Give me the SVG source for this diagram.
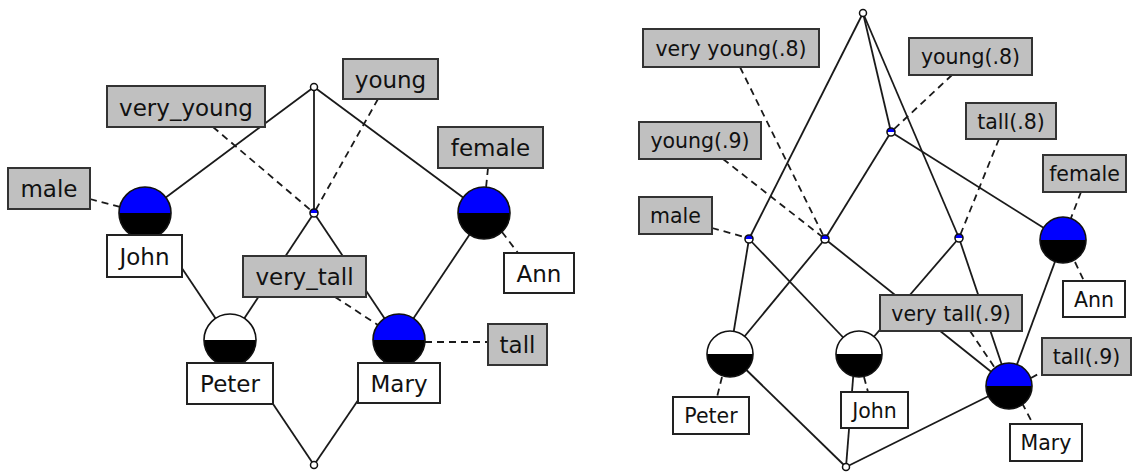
<svg xmlns="http://www.w3.org/2000/svg" width="1134" height="475" viewBox="0 0 1134 475">
<style>
.e{stroke:#1a1a1a;stroke-width:1.8;fill:none}
.d{stroke:#1a1a1a;stroke-width:1.8;fill:none;stroke-dasharray:7 5}
.lab{fill:#c0c0c0;stroke:#333;stroke-width:2}
.obj{fill:#fff;stroke:#222;stroke-width:2}
.tl{font-family:"DejaVu Sans",sans-serif;font-size:23px;fill:#111;text-anchor:middle}
.tr{font-family:"DejaVu Sans",sans-serif;font-size:20.5px;fill:#111;text-anchor:middle}
.ring{fill:none;stroke:#111;stroke-width:1.6}
.blue{fill:#0000ff}
.blk{fill:#000}
.wht{fill:#fff}
.pt{fill:#fff;stroke:#111;stroke-width:1.5}
</style>
<g id="connectors">
<!-- left solid -->
<line class="e" x1="314" y1="87" x2="145" y2="213"/>
<line class="e" x1="314" y1="87" x2="314" y2="213"/>
<line class="e" x1="314" y1="87" x2="484" y2="213"/>
<line class="e" x1="314" y1="213" x2="230" y2="340"/>
<line class="e" x1="314" y1="213" x2="399" y2="340"/>
<line class="e" x1="145" y1="213" x2="230" y2="340"/>
<line class="e" x1="484" y1="213" x2="399" y2="340"/>
<line class="e" x1="230" y1="340" x2="314" y2="465"/>
<line class="e" x1="399" y1="340" x2="314" y2="465"/>
<!-- left dashed -->
<line class="d" x1="90" y1="199" x2="120" y2="207"/>
<line class="d" x1="213" y1="127" x2="314" y2="213"/>
<line class="d" x1="378" y1="99" x2="314" y2="213"/>
<line class="d" x1="488" y1="168" x2="486" y2="188"/>
<line class="d" x1="502" y1="232" x2="518" y2="253"/>
<line class="d" x1="335" y1="297" x2="378" y2="325"/>
<line class="d" x1="425" y1="342" x2="488" y2="342"/>
<!-- right solid -->
<line class="e" x1="863" y1="13" x2="749" y2="239"/>
<line class="e" x1="863" y1="13" x2="891" y2="132"/>
<line class="e" x1="863" y1="13" x2="959" y2="238"/>
<line class="e" x1="891" y1="132" x2="825" y2="239"/>
<line class="e" x1="891" y1="132" x2="1063" y2="240"/>
<line class="e" x1="749" y1="239" x2="730" y2="354"/>
<line class="e" x1="749" y1="239" x2="859" y2="354"/>
<line class="e" x1="825" y1="239" x2="730" y2="354"/>
<line class="e" x1="825" y1="239" x2="1009" y2="386"/>
<line class="e" x1="959" y1="238" x2="859" y2="354"/>
<line class="e" x1="959" y1="238" x2="1009" y2="386"/>
<line class="e" x1="1063" y1="240" x2="1009" y2="386"/>
<line class="e" x1="730" y1="354" x2="846" y2="467"/>
<line class="e" x1="855" y1="354" x2="846" y2="467"/>
<line class="e" x1="1009" y1="386" x2="846" y2="467"/>
<!-- right dashed -->
<line class="d" x1="740" y1="67" x2="825" y2="239"/>
<line class="d" x1="723" y1="159" x2="825" y2="239"/>
<line class="d" x1="712" y1="228" x2="748" y2="238"/>
<line class="d" x1="952" y1="75" x2="891" y2="132"/>
<line class="d" x1="999" y1="139" x2="959" y2="238"/>
<line class="d" x1="1081" y1="192" x2="1071" y2="218"/>
<line class="d" x1="1075" y1="262" x2="1084" y2="281"/>
<line class="d" x1="1022" y1="403" x2="1033" y2="424"/>
<line class="d" x1="1031" y1="378" x2="1042" y2="372"/>
<line class="d" x1="970" y1="331" x2="995" y2="368"/>
<line class="d" x1="722" y1="377" x2="717" y2="397"/>
<line class="d" x1="864" y1="377" x2="868" y2="392"/>
</g>
<!-- left nodes -->
<g id="L-top"><circle class="pt" cx="314" cy="87" r="3.5"/></g>
<g id="L-bottom"><circle class="pt" cx="314" cy="465" r="3.5"/></g>
<g id="L-mid"><path class="wht" d="M310,213 A4,4 0 0 0 318,213 Z"/><path class="blue" d="M310,213 A4,4 0 0 1 318,213 Z"/><circle class="ring" cx="314" cy="213" r="4"/></g>
<g id="L-john"><path class="blue" d="M119,213 A26,26 0 0 1 171,213 Z"/><path class="blk" d="M119,213 A26,26 0 0 0 171,213 Z"/><circle class="ring" cx="145" cy="213" r="26"/>
<rect class="obj" x="107" y="235" width="75" height="42"/><text class="tl" x="144.5" y="264.5">John</text></g>
<g id="L-female"><path class="blue" d="M458,213 A26,26 0 0 1 510,213 Z"/><path class="blk" d="M458,213 A26,26 0 0 0 510,213 Z"/><circle class="ring" cx="484" cy="213" r="26"/></g>
<g id="L-peter"><path class="wht" d="M204,340 A26,26 0 0 1 256,340 Z"/><path class="blk" d="M204,340 A26,26 0 0 0 256,340 Z"/><circle class="ring" cx="230" cy="340" r="26"/>
<rect class="obj" x="187" y="363" width="86" height="41"/><text class="tl" x="230" y="392">Peter</text></g>
<g id="L-mary"><path class="blue" d="M373,340 A26,26 0 0 1 425,340 Z"/><path class="blk" d="M373,340 A26,26 0 0 0 425,340 Z"/><circle class="ring" cx="399" cy="340" r="26"/>
<rect class="obj" x="358" y="363" width="82" height="40"/><text class="tl" x="399" y="391.5">Mary</text></g>
<g id="L-ann"><rect class="obj" x="504" y="253" width="70" height="40"/><text class="tl" x="539" y="281.5">Ann</text></g>
<g id="L-very_young"><rect class="lab" x="107" y="86" width="158" height="41"/><text class="tl" x="186" y="115.5">very_young</text></g>
<g id="L-young"><rect class="lab" x="343" y="59" width="95" height="40"/><text class="tl" x="390.5" y="87.5">young</text></g>
<g id="L-male"><rect class="lab" x="8" y="168" width="82" height="41"/><text class="tl" x="49" y="197">male</text></g>
<g id="L-female-lab"><rect class="lab" x="438" y="127" width="105" height="41"/><text class="tl" x="490.5" y="156">female</text></g>
<g id="L-very_tall"><rect class="lab" x="243" y="256" width="123" height="41"/><text class="tl" x="304.5" y="285">very_tall</text></g>
<g id="L-tall"><rect class="lab" x="488" y="324" width="59" height="41"/><text class="tl" x="517.5" y="353">tall</text></g>
<!-- right nodes -->
<g id="R-top"><circle class="pt" cx="863" cy="13" r="3.5"/></g>
<g id="R-bottom"><circle class="pt" cx="846" cy="467" r="3.5"/></g>
<g id="R-male-node"><path class="wht" d="M745,239 A4,4 0 0 0 753,239 Z"/><path class="blue" d="M745,239 A4,4 0 0 1 753,239 Z"/><circle class="ring" cx="749" cy="239" r="4"/></g>
<g id="R-young9-node"><path class="wht" d="M821,239 A4,4 0 0 0 829,239 Z"/><path class="blue" d="M821,239 A4,4 0 0 1 829,239 Z"/><circle class="ring" cx="825" cy="239" r="4"/></g>
<g id="R-young8-node"><path class="wht" d="M887,132 A4,4 0 0 0 895,132 Z"/><path class="blue" d="M887,132 A4,4 0 0 1 895,132 Z"/><circle class="ring" cx="891" cy="132" r="4"/></g>
<g id="R-tall8-node"><path class="wht" d="M955,238 A4,4 0 0 0 963,238 Z"/><path class="blue" d="M955,238 A4,4 0 0 1 963,238 Z"/><circle class="ring" cx="959" cy="238" r="4"/></g>
<g id="R-peter"><path class="wht" d="M707,354 A23,23 0 0 1 753,354 Z"/><path class="blk" d="M707,354 A23,23 0 0 0 753,354 Z"/><circle class="ring" cx="730" cy="354" r="23"/>
<rect class="obj" x="673" y="397" width="76" height="37"/><text class="tr" x="711" y="423">Peter</text></g>
<g id="R-john"><path class="wht" d="M836,354 A23,23 0 0 1 882,354 Z"/><path class="blk" d="M836,354 A23,23 0 0 0 882,354 Z"/><circle class="ring" cx="859" cy="354" r="23"/>
<rect class="obj" x="841" y="392" width="67" height="36"/><text class="tr" x="874.5" y="417.5">John</text></g>
<g id="R-mary"><path class="blue" d="M986,386 A23,23 0 0 1 1032,386 Z"/><path class="blk" d="M986,386 A23,23 0 0 0 1032,386 Z"/><circle class="ring" cx="1009" cy="386" r="23"/>
<rect class="obj" x="1010" y="424" width="72" height="37"/><text class="tr" x="1046" y="450">Mary</text></g>
<g id="R-female"><path class="blue" d="M1040,240 A23,23 0 0 1 1086,240 Z"/><path class="blk" d="M1040,240 A23,23 0 0 0 1086,240 Z"/><circle class="ring" cx="1063" cy="240" r="23"/></g>
<g id="R-ann"><rect class="obj" x="1063" y="281" width="62" height="36"/><text class="tr" x="1094" y="306.5">Ann</text></g>
<g id="R-very_young8"><rect class="lab" x="643" y="29" width="176" height="38"/><text class="tr" x="731" y="55.5">very young(.8)</text></g>
<g id="R-young9"><rect class="lab" x="639" y="122" width="122" height="37"/><text class="tr" x="700" y="148">young(.9)</text></g>
<g id="R-male"><rect class="lab" x="639" y="197" width="73" height="37"/><text class="tr" x="675.5" y="223">male</text></g>
<g id="R-young8"><rect class="lab" x="909" y="38" width="123" height="37"/><text class="tr" x="970.5" y="64">young(.8)</text></g>
<g id="R-tall8"><rect class="lab" x="966" y="103" width="90" height="36"/><text class="tr" x="1011" y="128.5">tall(.8)</text></g>
<g id="R-female-lab"><rect class="lab" x="1043" y="155" width="83" height="37"/><text class="tr" x="1084.5" y="181">female</text></g>
<g id="R-very_tall9"><rect class="lab" x="880" y="295" width="142" height="36"/><text class="tr" x="951" y="320.5">very tall(.9)</text></g>
<g id="R-tall9"><rect class="lab" x="1042" y="338" width="89" height="37"/><text class="tr" x="1086.5" y="364">tall(.9)</text></g>
</svg>
